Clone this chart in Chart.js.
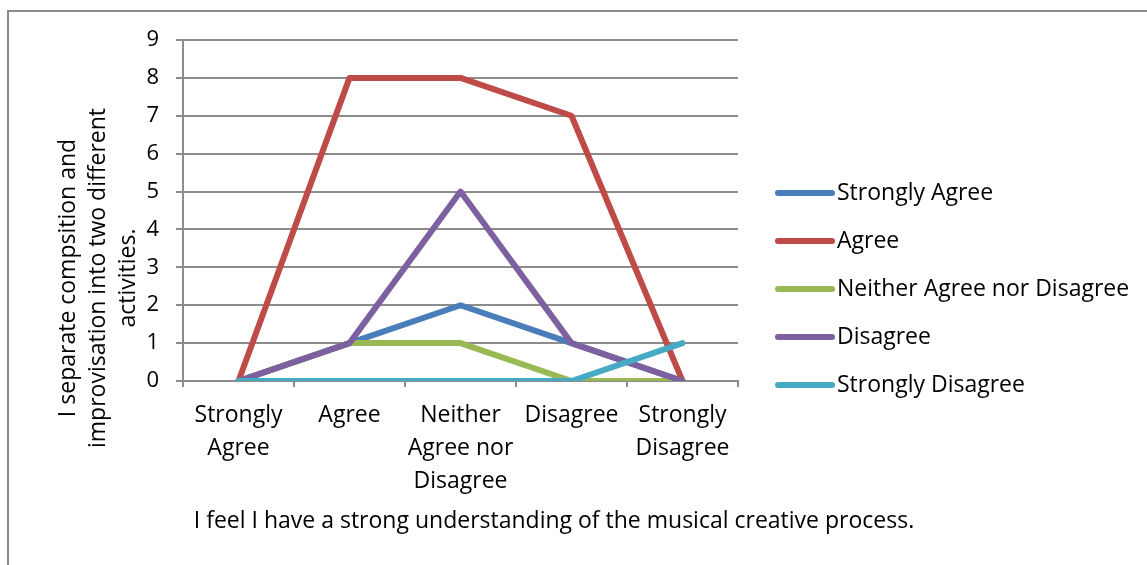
<!DOCTYPE html>
<html lang="en">
<head>
    <meta charset="UTF-8">
    <title>Musical creative process survey</title>
    <script src="https://cdn.jsdelivr.net/npm/chart.js@4.4.0/dist/chart.umd.min.js"></script>
    <style>
        html, body { margin: 0; padding: 0; background: #fff; }
        .chart-box { position: relative; width: 1147px; height: 565px; }
    </style>
</head>
<body>
    <div class="chart-box">
        <canvas id="surveyChart"></canvas>
    </div>

    <script>
        // Answers to "I feel I have a strong understanding..." (x axis)
        const categories = [
            ['Strongly', 'Agree'],
            'Agree',
            ['Neither', 'Agree nor', 'Disagree'],
            'Disagree',
            ['Strongly', 'Disagree']
        ];

        // One series per answer to "I separate composition and improvisation..."
        const seriesNames = ['Strongly Agree', 'Agree', 'Neither Agree nor Disagree', 'Disagree', 'Strongly Disagree'];
        const stronglyAgree    = [0, 1, 2, 1, 0];
        const agree            = [0, 8, 8, 7, 0];
        const neither          = [0, 1, 1, 0, 0];
        const disagree         = [0, 1, 5, 1, 0];
        const stronglyDisagree = [0, 0, 0, 0, 1];
        const yTicks = [0, 1, 2, 3, 4, 5, 6, 7, 8, 9];

        const xTitle = 'I feel I have a strong understanding of the musical creative process.';
        const yTitle = ['I separate compsition and', 'improvisation into two different', 'activities.'];

        const cores = ['#4A7EBB', '#BE4B48', '#98B954', '#7D60A0', '#46AAC5'];
        const fonte = "'Open Sans', sans-serif";

        const valores = [stronglyAgree, agree, neither, disagree, stronglyDisagree];

        // frame, axis titles and legend drawn by hand
        const moldura = {
            id: 'moldura',
            beforeDraw(chart) {
                const ctx = chart.ctx;
                ctx.save();
                ctx.fillStyle = '#fff';
                ctx.fillRect(0, 0, chart.width, chart.height);
                ctx.strokeStyle = '#8c8c8c';
                ctx.lineWidth = 2;
                ctx.strokeRect(8, 11, chart.width + 10, chart.height + 10);
                ctx.restore();
            },
            afterDraw(chart) {
                const ctx = chart.ctx;
                ctx.save();
                ctx.fillStyle = '#000';
                ctx.textBaseline = 'middle';
                ctx.textAlign = 'center';

                // x title
                ctx.font = '23px ' + fonte;
                ctx.fillText(xTitle, 554, 521);

                // y title, rotated
                ctx.save();
                ctx.translate(98, 278);
                ctx.rotate(-Math.PI / 2);
                yTitle.forEach((linha, i) => ctx.fillText(linha, 0, (i - 1) * 30));
                ctx.restore();

                // legend
                ctx.textAlign = 'left';
                chart.data.datasets.forEach((ds, i) => {
                    const y = 193 + i * 48;
                    ctx.strokeStyle = ds.borderColor;
                    ctx.lineWidth = 6;
                    ctx.lineCap = 'round';
                    ctx.beginPath();
                    ctx.moveTo(778, y);
                    ctx.lineTo(832, y);
                    ctx.stroke();
                    ctx.fillText(ds.label, 837, y);
                });
                ctx.restore();
            }
        };

        new Chart(document.getElementById('surveyChart'), {
            type: 'line',
            data: {
                labels: categories,
                datasets: seriesNames.map((nome, i) => ({
                    label: nome,
                    data: valores[i],
                    borderColor: cores[i],
                    backgroundColor: cores[i],
                    borderWidth: 6,
                    borderCapStyle: 'round',
                    borderJoinStyle: 'round',
                    tension: 0,
                    pointRadius: 0,
                    order: seriesNames.length - i
                }))
            },
            options: {
                responsive: true,
                maintainAspectRatio: false,
                animation: false,
                layout: { padding: { left: 0, top: 40, right: 409, bottom: 0 } },
                plugins: {
                    legend: { display: false },
                    tooltip: { enabled: false }
                },
                scales: {
                    x: {
                        offset: true,
                        afterFit(scale) { scale.height = 184; },
                        border: { color: '#8c8c8c', width: 2 },
                        grid: {
                            offset: true,
                            drawOnChartArea: false,
                            color: '#8c8c8c',
                            lineWidth: 2,
                            tickLength: 6
                        },
                        ticks: {
                            color: '#000',
                            padding: 12,
                            maxRotation: 0,
                            autoSkip: false,
                            font: { family: fonte, size: 23, lineHeight: 1.43 }
                        }
                    },
                    y: {
                        min: 0,
                        max: 9,
                        afterFit(scale) { scale.width = 183; },
                        afterBuildTicks(scale) { scale.ticks = yTicks.map(v => ({ value: v })); },
                        border: { color: '#8c8c8c', width: 2 },
                        grid: {
                            color: '#8c8c8c',
                            lineWidth: 2,
                            tickLength: 7
                        },
                        ticks: {
                            color: '#000',
                            padding: 17,
                            font: { family: fonte, size: 22 }
                        }
                    }
                }
            },
            plugins: [moldura]
        });
    </script>
</body>
</html>
